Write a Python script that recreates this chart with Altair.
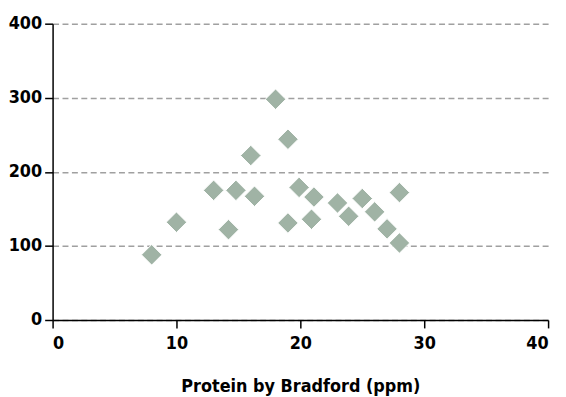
import altair as alt
import pandas as pd

protein_bradford = [8.0, 10.0, 13.0, 14.2, 14.8, 16.0, 16.3, 18.0, 19.0, 19.0,
                    19.9, 21.1, 20.9, 23.0, 23.9, 25.0, 26.0, 27.0, 28.0, 28.0]
measured = [88, 132, 175, 122, 175, 222, 167, 298, 244, 131,
            179, 166, 136, 158, 140, 164, 146, 123, 104, 172]
x_ticks = [0, 10, 20, 30, 40]
y_ticks = [0, 100, 200, 300, 400]

df = pd.DataFrame({"x": protein_bradford, "y": measured})

FONT = "DejaVu Sans Condensed"

chart = alt.Chart(df).mark_point(
    shape="diamond", filled=True, size=430, color="#a0b3a5",
    stroke="white", strokeWidth=1, opacity=1
).encode(
    x=alt.X("x:Q", scale=alt.Scale(domain=[0, 40], nice=False),
            axis=alt.Axis(values=x_ticks, title="Protein by Bradford (ppm)", grid=False,
                          domainColor="black", domainWidth=1.5, tickColor="black",
                          tickSize=8, tickWidth=1.5, labelPadding=7,
                          labelFont=FONT, labelFontSize=18, labelFontWeight="bold",
                          labelColor="black", titleFont=FONT, titleFontSize=18,
                          titleFontWeight="bold", titleColor="black", titlePadding=25)),
    y=alt.Y("y:Q", scale=alt.Scale(domain=[0, 400], nice=False),
            axis=alt.Axis(values=y_ticks, title=None, grid=True,
                          gridColor="#a0a0a0", gridDash=[6, 3.5], gridWidth=1.5,
                          domainColor="black", domainWidth=1.5, tickColor="black",
                          tickSize=8, tickWidth=1.5, labelPadding=3,
                          labelFont=FONT, labelFontSize=18, labelFontWeight="bold",
                          labelColor="black")),
).properties(
    width=500, height=299,
    autosize=alt.AutoSizeParams(type="none"),
    padding={"left": 45, "top": 14, "right": 10, "bottom": 90},
    title=alt.TitleParams("Figure 1", orient="bottom", anchor="start", frame="bounds",
                          font=FONT, fontSize=16, fontWeight="bold", color="black",
                          dx=-28, offset=4),
).configure_view(stroke=None)

chart.save("out.html", embed_options={"renderer": "svg", "actions": False})
